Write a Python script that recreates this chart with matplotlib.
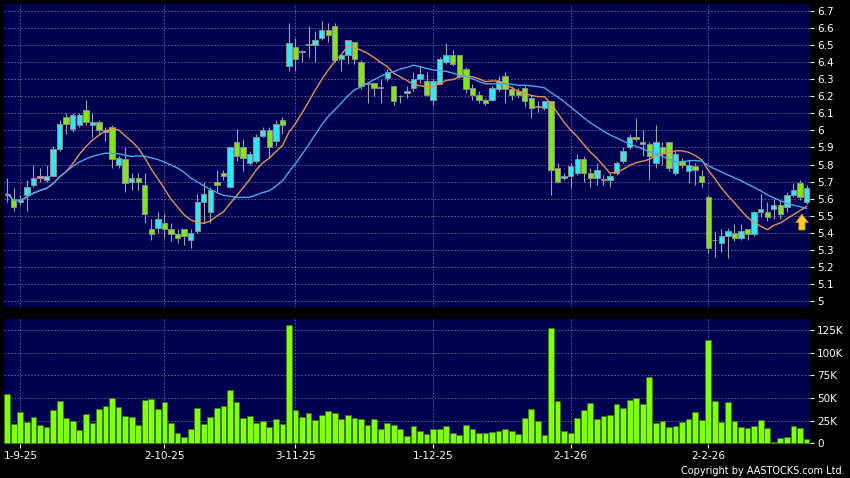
import matplotlib
matplotlib.use("Agg")
import matplotlib.pyplot as plt
from matplotlib.ticker import FuncFormatter
import numpy as np
import pandas as pd

# daily candles, oldest first (28-8-25 .. 26-2-26)
opens = [5.62, 5.60, 5.58, 5.62, 5.68, 5.72, 5.71, 5.73, 5.89, 6.08,
         6.01, 6.03, 6.12, 6.03, 6.05, 5.99, 6.02, 5.80, 5.83, 5.70,
         5.72, 5.68, 5.42, 5.43, 5.46, 5.42, 5.39, 5.42, 5.36, 5.41,
         5.58, 5.52, 5.70, 5.75, 5.67, 5.93, 5.90, 5.81, 5.82, 5.97,
         6.00, 5.94, 6.06, 6.38, 6.49, 6.46, 6.50, 6.50, 6.54, 6.59,
         6.61, 6.42, 6.44, 6.52, 6.40, 6.27, 6.28, 6.25, 6.31, 6.26,
         6.20, 6.22, 6.25, 6.30, 6.29, 6.18, 6.27, 6.40, 6.44, 6.44,
         6.36, 6.25, 6.21, 6.18, 6.18, 6.24, 6.32, 6.24, 6.23, 6.25,
         6.19, 6.14, 6.13, 6.17, 5.78, 5.72, 5.73, 5.75, 5.83, 5.75,
         5.72, 5.71, 5.71, 5.75, 5.82, 5.90, 5.96, 5.93, 5.92, 5.81,
         5.90, 5.93, 5.75, 5.82, 5.76, 5.79, 5.73, 5.61, 5.355, 5.34,
         5.38, 5.40, 5.37, 5.42, 5.39, 5.52, 5.52, 5.54, 5.56, 5.55,
         5.62, 5.69, 5.58]
highs = [5.72, 5.66, 5.62, 5.71, 5.80, 5.78, 5.80, 5.91, 6.06, 6.10,
         6.10, 6.10, 6.18, 6.10, 6.06, 6.02, 6.03, 5.85, 5.90, 5.75,
         5.75, 5.75, 5.48, 5.52, 5.51, 5.46, 5.42, 5.42, 5.42, 5.63,
         5.70, 5.67, 5.77, 5.77, 5.91, 6.01, 5.95, 5.88, 5.98, 6.02,
         6.02, 6.06, 6.08, 6.63, 6.54, 6.47, 6.61, 6.58, 6.64, 6.63,
         6.63, 6.45, 6.53, 6.52, 6.41, 6.28, 6.28, 6.30, 6.36, 6.26,
         6.21, 6.26, 6.34, 6.38, 6.34, 6.30, 6.43, 6.51, 6.47, 6.44,
         6.37, 6.27, 6.23, 6.19, 6.26, 6.32, 6.34, 6.26, 6.25, 6.26,
         6.21, 6.17, 6.17, 6.17, 5.81, 5.75, 5.81, 5.86, 5.85, 5.78,
         5.81, 5.74, 5.75, 5.82, 5.90, 5.98, 6.07, 6.00, 5.93, 6.03,
         5.93, 5.93, 5.88, 5.84, 5.83, 5.81, 5.77, 5.62, 5.41, 5.42,
         5.43, 5.45, 5.45, 5.42, 5.53, 5.63, 5.58, 5.60, 5.59, 5.64,
         5.69, 5.71, 5.68]
lows = [5.58, 5.53, 5.56, 5.53, 5.67, 5.70, 5.70, 5.73, 5.88, 5.98,
        5.99, 6.02, 6.03, 5.96, 5.98, 5.94, 5.78, 5.78, 5.64, 5.65,
        5.65, 5.46, 5.36, 5.40, 5.37, 5.35, 5.34, 5.33, 5.31, 5.40,
        5.46, 5.46, 5.64, 5.71, 5.66, 5.82, 5.76, 5.80, 5.81, 5.96,
        5.84, 5.91, 5.98, 6.35, 6.35, 6.40, 6.43, 6.40, 6.53, 6.52,
        6.40, 6.35, 6.39, 6.39, 6.24, 6.16, 6.20, 6.16, 6.29, 6.15,
        6.16, 6.19, 6.23, 6.28, 6.20, 6.15, 6.27, 6.39, 6.38, 6.31,
        6.22, 6.18, 6.16, 6.15, 6.17, 6.23, 6.16, 6.18, 6.19, 6.14,
        6.07, 6.11, 6.12, 5.62, 5.69, 5.71, 5.66, 5.74, 5.70, 5.67,
        5.68, 5.68, 5.67, 5.74, 5.81, 5.89, 5.94, 5.85, 5.71, 5.78,
        5.80, 5.76, 5.74, 5.78, 5.69, 5.68, 5.67, 5.28, 5.26, 5.29,
        5.25, 5.35, 5.36, 5.36, 5.38, 5.49, 5.47, 5.48, 5.48, 5.52,
        5.61, 5.59, 5.57]
closes = [5.63, 5.55, 5.59, 5.67, 5.72, 5.73, 5.73, 5.89, 6.04, 6.04,
          6.09, 6.09, 6.05, 6.05, 6.00, 6.00, 5.83, 5.84, 5.69, 5.72,
          5.70, 5.51, 5.39, 5.48, 5.42, 5.39, 5.37, 5.38, 5.40, 5.58,
          5.63, 5.65, 5.68, 5.73, 5.90, 5.85, 5.84, 5.86, 5.96, 6.00,
          5.90, 6.04, 6.03, 6.51, 6.42, 6.46, 6.50, 6.53, 6.59, 6.56,
          6.41, 6.44, 6.53, 6.42, 6.26, 6.28, 6.25, 6.25, 6.34, 6.17,
          6.20, 6.23, 6.30, 6.33, 6.21, 6.29, 6.42, 6.44, 6.39, 6.32,
          6.24, 6.21, 6.18, 6.16, 6.25, 6.29, 6.24, 6.21, 6.21, 6.17,
          6.13, 6.14, 6.17, 5.77, 5.70, 5.73, 5.79, 5.83, 5.75, 5.72,
          5.77, 5.71, 5.73, 5.81, 5.88, 5.96, 5.95, 5.92, 5.85, 5.93,
          5.87, 5.78, 5.86, 5.80, 5.80, 5.77, 5.70, 5.31, 5.36, 5.38,
          5.41, 5.37, 5.41, 5.39, 5.52, 5.54, 5.49, 5.56, 5.51, 5.62,
          5.65, 5.61, 5.66]
# volume in thousands of shares
volume_k = [54.4, 21.3, 34.5, 23.2, 28.7, 19.8, 18.3, 36.4, 47.0, 27.9,
            24.3, 14.3, 32.0, 22.0, 37.8, 41.5, 49.6, 39.7, 29.8, 28.7,
            19.8, 47.4, 48.5, 37.8, 45.9, 22.0, 11.0, 6.6, 15.8, 38.6,
            21.6, 29.3, 39.3, 40.8, 58.8, 45.6, 28.3, 30.1, 22.7, 24.9,
            18.3, 26.8, 21.6, 130.5, 36.4, 29.3, 33.4, 26.0, 30.9, 36.0,
            33.8, 27.2, 30.9, 28.3, 27.2, 20.2, 26.8, 15.4, 22.4, 20.2,
            15.8, 8.1, 19.4, 13.6, 10.3, 15.8, 15.8, 18.7, 11.4, 9.2,
            19.8, 16.2, 11.4, 11.4, 12.5, 13.6, 15.4, 13.9, 10.3, 27.9,
            38.2, 24.3, 8.8, 126.8, 46.7, 13.6, 11.0, 27.9, 36.4, 44.5,
            27.2, 30.5, 31.2, 43.3, 38.6, 47.4, 49.6, 43.0, 72.8, 22.4,
            24.9, 17.6, 19.4, 23.9, 26.8, 34.5, 25.7, 113.9, 47.0, 23.9,
            45.6, 24.3, 18.0, 16.5, 19.1, 25.7, 16.5, 1.5, 5.8, 6.6,
            18.7, 16.5, 4.4]

date_pos = [2, 24, 44, 65, 86, 107]
date_labels = ["1-9-25", "2-10-25", "3-11-25", "1-12-25", "2-1-26", "2-2-26"]

o = np.array(opens)
h = np.array(highs)
l = np.array(lows)
c = np.array(closes)
vol = np.array(volume_k) * 1000
n = len(c)
x = np.arange(n)

ma10 = pd.Series(c).rolling(10, min_periods=1).mean()
ma20 = pd.Series(c).rolling(20, min_periods=1).mean()

navy = "#000050"
gridc = "#6a6a96"
W, H = 850, 478

fig = plt.figure(figsize=(8.5, 4.78), dpi=100, facecolor="black")
ax = fig.add_axes([4 / W, 1 - 307 / H, 806 / W, 303 / H], facecolor=navy)
axv = fig.add_axes([4 / W, 1 - 444 / H, 806 / W, 125 / H], facecolor=navy)

# price panel
up = c >= o
body_col = np.where(up, "#33e6f2", "#80e61c")
ax.vlines(x, l, h, color="#a0a0a8", lw=0.8, zorder=2)
ax.bar(x, np.maximum(np.abs(c - o), 0.004), bottom=np.minimum(o, c), width=0.82,
       color=body_col, edgecolor="#8c8c8c", lw=0.7, zorder=3)
ax.plot(x, ma10, color="#e8905a", lw=1.0, zorder=4)
ax.plot(x, ma20, color="#4aa8e8", lw=1.0, zorder=4)

ax.annotate("", xy=(n - 1.7, ma10.iloc[-1] - 0.03), xytext=(n - 1.7, ma10.iloc[-1] - 0.155),
            arrowprops=dict(arrowstyle="simple,head_width=0.9,head_length=0.6,tail_width=0.45",
                            mutation_scale=10, fc="#ffcc33", ec="#c08a10", lw=0.6), zorder=6)

ax.set_xlim(-0.49, 122.53)
ax.set_ylim(4.965, 6.741)
ax.set_yticks(np.arange(5.0, 6.71, 0.1))
ax.yaxis.set_major_formatter(FuncFormatter(lambda v, p: f"{round(v, 1):g}"))
ax.yaxis.tick_right()
ax.set_xticks(date_pos)
ax.tick_params(axis="x", bottom=False, labelbottom=False)
ax.tick_params(axis="y", colors="white", labelsize=7.5, length=3, pad=2)
ax.grid(True, color=gridc, ls=(0, (2, 2)), lw=0.6)
ax.set_axisbelow(True)
for s in ax.spines.values():
    s.set_visible(False)

# volume panel
axv.bar(x, vol, width=0.88, color="#80ff10", edgecolor="#3a7a00", lw=0.5, zorder=3)
axv.set_xlim(-0.49, 122.53)
axv.set_ylim(-800, 137000)
axv.set_yticks(np.arange(0, 125001, 25000))
axv.yaxis.set_major_formatter(FuncFormatter(lambda v, p: "0" if v == 0 else f"{int(v / 1000)}K"))
axv.yaxis.tick_right()
axv.set_xticks(date_pos)
axv.set_xticklabels(date_labels)
axv.tick_params(axis="y", colors="white", labelsize=7.5, length=3, pad=2)
axv.tick_params(axis="x", colors="white", labelsize=7.5, length=3, pad=2)
axv.grid(True, color=gridc, ls=(0, (2, 2)), lw=0.6)
axv.set_axisbelow(True)
for s in axv.spines.values():
    s.set_visible(False)

fig.text(845 / W, 1 - 471 / H, "Copyright by AASTOCKS.com Ltd.", ha="right", va="center",
         color="white", fontsize=7)

fig.savefig("out.png", dpi=100, facecolor="black")
